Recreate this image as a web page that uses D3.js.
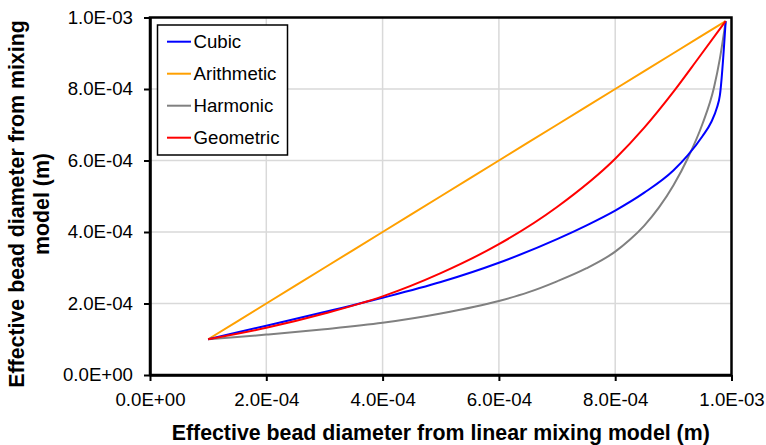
<!DOCTYPE html>
<html>
<head>
<meta charset="utf-8">
<script src="https://cdn.jsdelivr.net/npm/d3@7"></script>
<style>
  html, body { margin: 0; padding: 0; background: #ffffff; }
  svg { display: block; font-family: "Liberation Sans", Arial, sans-serif; }
</style>
</head>
<body>
<svg id="chart" width="766" height="445"></svg>
<script>
// ---- data (values in metres) ----
const xTickValues = [0, 2e-4, 4e-4, 6e-4, 8e-4, 1e-3];
const xTickLabels = ["0.0E+00", "2.0E-04", "4.0E-04", "6.0E-04", "8.0E-04", "1.0E-03"];
const yTickValues = [0, 2e-4, 4e-4, 6e-4, 8e-4, 1e-3];
const yTickLabels = ["0.0E+00", "2.0E-04", "4.0E-04", "6.0E-04", "8.0E-04", "1.0E-03"];

const seriesNames = ["Cubic", "Arithmetic", "Harmonic", "Geometric"];

const cubicX = [1.0e-4, 2.0e-4, 3.0e-4, 4.0e-4, 5.0e-4, 6.0e-4, 7.0e-4, 7.5e-4, 8.0e-4, 8.5e-4, 9.0e-4, 9.25e-4, 9.5e-4, 9.65e-4, 9.75e-4, 9.8e-4, 9.9e-4];
const cubicY = [1.0e-4, 1.38e-4, 1.76e-4, 2.16e-4, 2.60e-4, 3.14e-4, 3.80e-4, 4.18e-4, 4.60e-4, 5.10e-4, 5.72e-4, 6.15e-4, 6.68e-4, 7.07e-4, 7.48e-4, 7.82e-4, 9.9e-4];

const arithmeticX = [1.0e-4, 2.0e-4, 3.0e-4, 4.0e-4, 5.0e-4, 6.0e-4, 7.0e-4, 8.0e-4, 9.0e-4, 9.9e-4];
const arithmeticY = [1.0e-4, 2.0e-4, 3.0e-4, 4.0e-4, 5.0e-4, 6.0e-4, 7.0e-4, 8.0e-4, 9.0e-4, 9.9e-4];

const harmonicX = [1.0e-4, 1.5e-4, 2.0e-4, 3.0e-4, 4.0e-4, 5.0e-4, 6.0e-4, 6.5e-4, 7.0e-4, 7.5e-4, 8.0e-4, 8.25e-4, 8.5e-4, 8.75e-4, 9.0e-4, 9.25e-4, 9.5e-4, 9.7e-4, 9.8e-4, 9.9e-4];
const harmonicY = [1.0e-4, 1.06e-4, 1.13e-4, 1.28e-4, 1.46e-4, 1.72e-4, 2.07e-4, 2.31e-4, 2.62e-4, 2.98e-4, 3.45e-4, 3.78e-4, 4.18e-4, 4.68e-4, 5.30e-4, 6.07e-4, 7.02e-4, 8.05e-4, 8.85e-4, 9.9e-4];

const geometricX = [1.0e-4, 2.0e-4, 3.0e-4, 4.0e-4, 5.0e-4, 6.0e-4, 7.0e-4, 8.0e-4, 8.5e-4, 9.0e-4, 9.43e-4, 9.9e-4];
const geometricY = [1.0e-4, 1.32e-4, 1.72e-4, 2.20e-4, 2.85e-4, 3.66e-4, 4.70e-4, 6.05e-4, 6.92e-4, 7.92e-4, 8.86e-4, 9.9e-4];

// ---- layout ----
const svg = d3.select("#chart");
const L = 150, R = 731.5, T = 17.5, B = 375;
const x = d3.scaleLinear().domain([0, 1e-3]).range([L, R]);
const y = d3.scaleLinear().domain([0, 1e-3]).range([B, T]);

const series = [
  { name: seriesNames[0], xs: cubicX, ys: cubicY, color: "#0000ff" },
  { name: seriesNames[1], xs: arithmeticX, ys: arithmeticY, color: "#ffa000" },
  { name: seriesNames[2], xs: harmonicX, ys: harmonicY, color: "#808080" },
  { name: seriesNames[3], xs: geometricX, ys: geometricY, color: "#ff0000" }
];

// gridlines
const grid = svg.append("g");
grid.selectAll("line.v").data(xTickValues.slice(1, -1)).join("line")
  .attr("x1", d => x(d)).attr("x2", d => x(d))
  .attr("y1", T).attr("y2", B)
  .attr("stroke", "#d9d9d9").attr("stroke-width", 1.5);
grid.selectAll("line.h").data(yTickValues.slice(1, -1)).join("line")
  .attr("y1", d => y(d)).attr("y2", d => y(d))
  .attr("x1", L).attr("x2", R)
  .attr("stroke", "#d9d9d9").attr("stroke-width", 1.5);

// series
const line = d3.line().curve(d3.curveMonotoneX).x(d => x(d[0])).y(d => y(d[1]));
[series[1], series[2], series[0], series[3]].forEach(s => {
  const pts = s.xs.map((v, i) => [v, s.ys[i]]);
  svg.append("path").datum(pts)
    .attr("d", line)
    .attr("fill", "none")
    .attr("stroke", s.color)
    .attr("stroke-width", 2)
    .attr("stroke-linejoin", "round");
});

// frame
svg.append("rect")
  .attr("x", L).attr("y", T).attr("width", R - L).attr("height", B - T)
  .attr("fill", "none").attr("stroke", "#000").attr("stroke-width", 2.5);

// axes
const xAxis = d3.axisBottom(x).tickValues(xTickValues)
  .tickFormat((d, i) => xTickLabels[i]).tickSize(6).tickSizeOuter(0).tickPadding(10);
const gx = svg.append("g").attr("transform", `translate(0,${B})`).call(xAxis);
gx.select(".domain").attr("stroke", "#000").attr("stroke-width", 2.5);
gx.selectAll(".tick line").attr("stroke", "#000").attr("stroke-width", 2);
gx.selectAll(".tick text").attr("font-size", "18.67px").attr("fill", "#000")
  .attr("font-family", "'Liberation Sans', Arial, sans-serif").attr("dy", "0.78em");

const yAxis = d3.axisLeft(y).tickValues(yTickValues)
  .tickFormat((d, i) => yTickLabels[i]).tickSize(6).tickSizeOuter(0).tickPadding(11);
const gy = svg.append("g").attr("transform", `translate(${L},0)`).call(yAxis);
gy.select(".domain").attr("stroke", "#000").attr("stroke-width", 2.5);
gy.selectAll(".tick line").attr("stroke", "#000").attr("stroke-width", 2);
gy.selectAll(".tick text").attr("font-size", "18.67px").attr("fill", "#000")
  .attr("font-family", "'Liberation Sans', Arial, sans-serif");

// axis titles
svg.append("text")
  .attr("x", (L + R) / 2).attr("y", 440)
  .attr("text-anchor", "middle")
  .attr("font-size", "21.33px").attr("font-weight", "bold")
  .text("Effective bead diameter from linear mixing model (m)");

const yTitle = svg.append("text")
  .attr("transform", "translate(0,204) rotate(-90)")
  .attr("text-anchor", "middle")
  .attr("font-size", "21.33px").attr("font-weight", "bold");
yTitle.append("tspan").attr("x", 0).attr("y", 24).text("Effective bead diameter from mixing");
yTitle.append("tspan").attr("x", 0).attr("y", 49).text("model (m)");

// legend
const lg = svg.append("g");
lg.append("rect")
  .attr("x", 157.5).attr("y", 25).attr("width", 130).attr("height", 130)
  .attr("fill", "#fff").attr("stroke", "#000").attr("stroke-width", 1.5);
series.forEach((s, i) => {
  const cy = 41.7 + i * 32;
  lg.append("line").attr("x1", 167).attr("x2", 191).attr("y1", cy).attr("y2", cy)
    .attr("stroke", s.color).attr("stroke-width", 2);
  lg.append("text").attr("x", 193.5).attr("y", cy).attr("dy", "0.35em")
    .attr("font-size", "18.67px").attr("fill", "#000").text(s.name);
});
</script>
</body>
</html>
